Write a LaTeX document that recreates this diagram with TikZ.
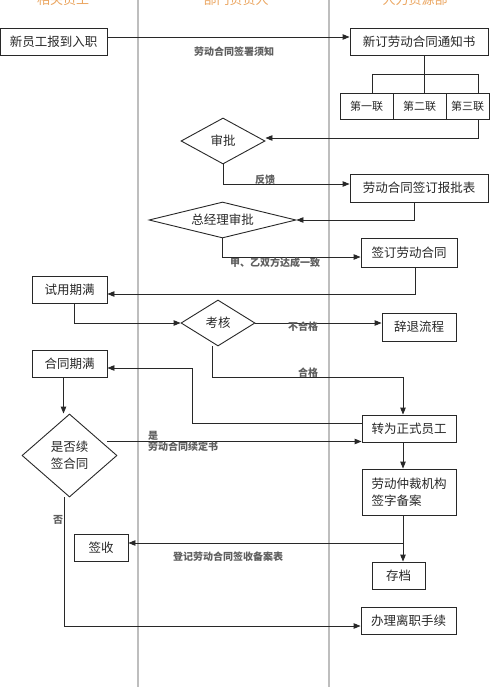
\documentclass[tikz,border=0pt]{standalone}
\usepackage{fontspec}
\setmainfont{Noto Sans CJK SC}
\usetikzlibrary{shapes.geometric,arrows.meta}
\definecolor{lane}{RGB}{190,190,190}
\definecolor{hdr}{RGB}{235,165,95}
\definecolor{lbl}{RGB}{95,95,95}
\definecolor{ink}{RGB}{40,40,40}
\tikzset{
  box/.style={draw=ink, line width=0.9pt, rectangle, inner sep=0pt, text=ink,
    font=\fontsize{12.5}{17}\selectfont},
  dia/.style={draw=ink, line width=0.9pt, diamond, inner sep=0pt, text=ink,
    font=\fontsize{12.5}{17}\selectfont},
  lab/.style={text=lbl, font=\bfseries\fontsize{10}{12}\selectfont, inner sep=0pt},
  hd/.style={text=hdr, font=\fontsize{13}{15}\selectfont, inner sep=0pt, anchor=base},
  flow/.style={draw=ink, line width=0.9pt},
  arr/.style={flow, -{Triangle[length=7pt,width=5.5pt]}},
  lanel/.style={draw=lane, line width=1.6pt}
}
\begin{document}
\begin{tikzpicture}[x=1pt,y=-1pt]
\useasboundingbox (0,0) rectangle (500,687);
\clip (0,0) rectangle (500,687);
\fill[white] (0,0) rectangle (500,687);
% lanes
\coordinate (l1t) at (138,0); \coordinate (l1b) at (138,687);
\coordinate (l2t) at (329,0); \coordinate (l2b) at (329,687);
\draw[lanel] (l1t) -- (l1b);
\draw[lanel] (l2t) -- (l2b);
\node[hd] (h1) at (63,5) {相关员工};
\node[hd] (h2) at (236,5) {部门负责人};
\node[hd] (h3) at (415,5) {人力资源部};
% nodes
\node[box, minimum width=107pt, minimum height=27pt] (b1) at (53.5,41.5) {新员工报到入职};
\node[box, minimum width=138pt, minimum height=27pt] (b2) at (419,41.5) {新订劳动合同通知书};
\node[box, minimum width=53pt, minimum height=26pt, font=\fontsize{11}{13}\selectfont] (c1) at (366.5,106) {第一联};
\node[box, minimum width=53pt, minimum height=26pt, font=\fontsize{11}{13}\selectfont] (c2) at (419.5,106) {第二联};
\node[box, minimum width=43pt, minimum height=26pt, font=\fontsize{11}{13}\selectfont] (c3) at (467.5,106) {第三联};
\node[dia, shape aspect=1.8, minimum width=84pt, minimum height=46pt] (d1) at (223,141) {审批};
\node[box, minimum width=138pt, minimum height=28pt] (b3) at (419,188) {劳动合同签订报批表};
\node[dia, shape aspect=4, minimum width=147pt, minimum height=36pt] (d2) at (222.5,220) {总经理审批};
\node[box, minimum width=96pt, minimum height=29pt] (b4) at (409,252.5) {签订劳动合同};
\node[box, minimum width=75pt, minimum height=27pt] (b5) at (69.5,289.5) {试用期满};
\node[dia, shape aspect=1.6, minimum width=74pt, minimum height=46pt] (d3) at (218,323) {考核};
\node[box, minimum width=74pt, minimum height=28pt] (b6) at (419,327) {辞退流程};
\node[box, minimum width=75pt, minimum height=27pt] (b7) at (69.5,363.5) {合同期满};
\node[box, minimum width=94pt, minimum height=27pt] (b8) at (409,428.5) {转为正式员工};
\node[dia, shape aspect=1.15, minimum width=95pt, minimum height=83pt, align=center] (d4) at (69.5,455.5) {是否续\\签合同};
\node[box, minimum width=94pt, minimum height=46pt, align=left] (b9) at (409,492) {劳动仲裁机构\\签字备案};
\node[box, minimum width=54pt, minimum height=27pt] (b10) at (101,547.5) {签收};
\node[box, minimum width=53pt, minimum height=27pt] (b11) at (398.5,575.5) {存档};
\node[box, minimum width=95pt, minimum height=27pt] (b12) at (408.5,620.5) {办理离职手续};
% helper coordinates
\coordinate (hm) at (424,74);
\coordinate (hl) at (372,74);
\coordinate (hr) at (478,74);
\coordinate (k1) at (403,377);
\coordinate (k2) at (192,368);
\coordinate (k3) at (403,543);
% connectors
\draw[arr] ([yshift=4.5pt]b1.east) -- ([yshift=4.5pt]b2.west);
\draw[flow] ([xshift=5pt]b2.south) -- (hm);
\draw[flow] (hl) -- (hr);
\draw[flow] (hl) -- (hl |- c1.north);
\draw[flow] (hm) -- (hm |- c2.north);
\draw[flow] (hr) -- (hr |- c3.north);
\draw[arr] (hr |- c3.south) |- ([yshift=3pt]d1.east);
\draw[arr] (d1.south) |- ([yshift=4pt]b3.west);
\draw[arr] ([xshift=-5pt]b3.south) |- (d2.east);
\draw[arr] (d2.south) |- ([yshift=-4.5pt]b4.west);
\draw[arr] ([xshift=6pt]b4.south) |- ([yshift=-4.5pt]b5.east);
\draw[arr] ([xshift=4.5pt]b5.south) |- (d3.west);
\draw[arr] (d3.east) -- (d3.east -| b6.west);
\draw[flow] ([xshift=-6pt]d3.south) |- (k1);
\draw[arr] (k1) -- (k1 |- b8.north);
\draw[flow] ([yshift=5.5pt]b8.west) -| (k2);
\draw[arr] (k2) -- (k2 -| b7.east);
\draw[arr] ([xshift=-6pt]b7.south) -- ([xshift=-6pt]b7.south |- d4.north);
\draw[arr] ([xshift=-10pt,yshift=14pt]d4.east) -- ([yshift=14pt]d4.east -| b8.west);
\draw[arr] ([xshift=-6pt]b8.south) -- ([xshift=-6pt]b9.north);
\draw[flow] ([xshift=-6pt]b9.south) -- (k3);
\draw[arr] (k3) -- (k3 |- b11.north);
\draw[arr] (k3) -- (k3 -| b10.east);
\draw[arr] ([xshift=-5pt]d4.south) |- ([yshift=-5.5pt]b12.west);
% labels
\node[lab] (t1) at (234,52) {劳动合同签署须知};
\node[lab] (t2) at (265,180) {反馈};
\node[lab] (t3) at (275,263) {甲、乙双方达成一致};
\node[lab] (t4) at (303,327) {不合格};
\node[lab] (t5) at (308,373) {合格};
\node[lab] (t6) at (153,436) {是};
\node[lab, anchor=west] (t7) at (148,447) {劳动合同续定书};
\node[lab] (t8) at (228,557) {登记劳动合同签收备案表};
\node[lab] (t9) at (58,520) {否};
\end{tikzpicture}
\end{document}
